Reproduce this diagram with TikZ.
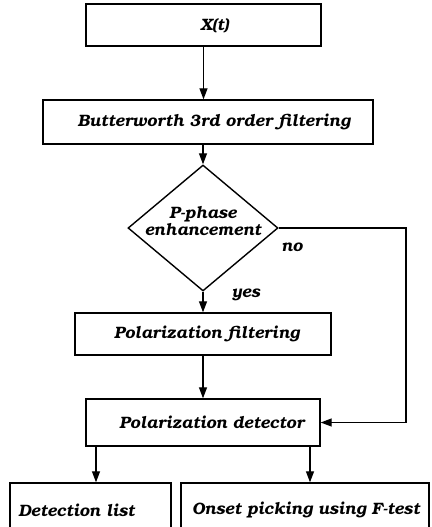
\documentclass[tikz,border=0pt]{standalone}
\usepackage[T1]{fontenc}
\usepackage{bookman}
\usetikzlibrary{shapes.geometric,arrows.meta}
\begin{document}
\begin{tikzpicture}[x=1pt,y=-1pt,
  font=\fontsize{16.5}{19}\selectfont\bfseries\itshape,
  box/.style={draw, line width=1.4pt, inner sep=0pt},
  arr/.style={-{Triangle[length=11pt,width=8pt]}, line width=1.3pt}]
\useasboundingbox (0,0) rectangle (431,527);
\node[box, minimum width=235pt, minimum height=42pt] (x) at (203.5,25) {\hspace*{22pt}X(t)};
\node[box, minimum width=330pt, minimum height=44pt] (bw) at (208,122) {\hspace*{12pt}Butterworth 3rd order filtering};
\node[draw, diamond, line width=1.4pt, minimum width=150pt, minimum height=126pt, aspect=1.19, inner sep=0pt,
  label={[align=center, yshift=7pt]center:P-phase\\[-2pt]enhancement}] (d) at (203,228) {};
\node[box, minimum width=256pt, minimum height=42pt] (pf) at (203,334) {\hspace*{8pt}Polarization filtering};
\node[box, minimum width=234pt, minimum height=47pt] (pd) at (203,422.5) {\hspace*{18pt}Polarization detector};
\node[box, minimum width=161pt, minimum height=54pt] (dl) at (90.5,510) {Detection list\hspace*{28pt}};
\node[box, minimum width=248pt, minimum height=54pt] (on) at (305,510) {\hspace*{2pt}Onset picking using F-test};
\node (no) at (292,247) {no};
\node (yes) at (246,295) {yes};
\coordinate (nc) at (406,0);
\coordinate (a1) at (96,0);
\coordinate (a2) at (310,0);
\draw[arr] (x.south) -- (x.south |- bw.north);
\draw[arr] (d.north |- bw.south) -- (d.north);
\draw[arr] (d.south) -- (pf.north);
\draw[arr] (pf.south) -- (pd.north);
\draw[arr] (d.east) -- (d.east -| nc) -- (nc |- pd.east) -- (pd.east);
\draw[arr] (a1 |- pd.south) -- (a1 |- dl.north);
\draw[arr] (a2 |- pd.south) -- (a2 |- on.north);
\end{tikzpicture}
\end{document}
